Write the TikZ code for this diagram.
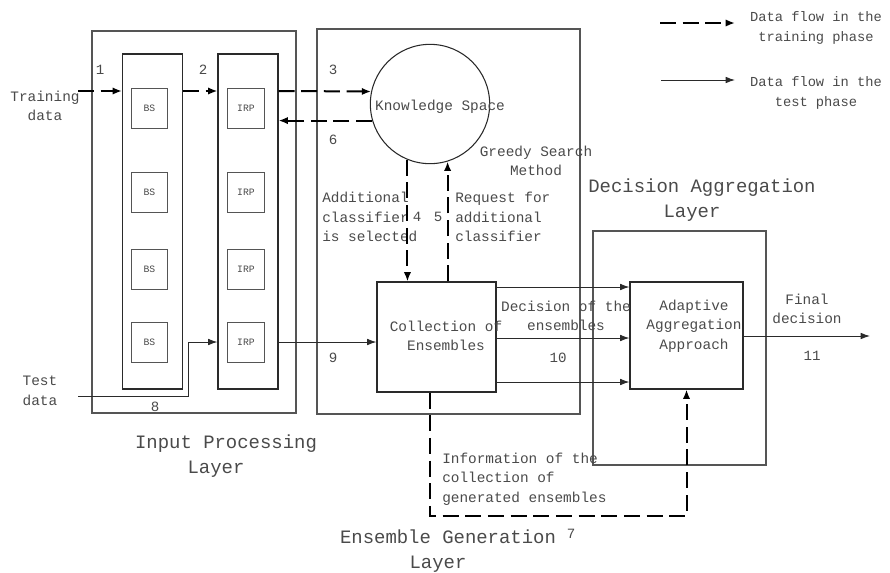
\documentclass[tikz,border=0pt]{standalone}
\usepackage{fontspec}
\setmainfont{Liberation Mono}
\usetikzlibrary{arrows.meta, calc}

\definecolor{inkgray}{HTML}{4A4A4A}
\definecolor{boxgray}{HTML}{555555}
\definecolor{linegray}{HTML}{2A2A2A}

\tikzset{
	layerbox/.style={draw=boxgray, line width=0.8pt, inner sep=0pt},
	colbox/.style={draw=linegray, line width=0.8pt, inner sep=0pt,
		minimum width=45pt, minimum height=251.25pt},
	unitbox/.style={draw=boxgray, line width=0.6pt, inner sep=0pt,
		minimum width=27.5pt, minimum height=30pt,
		text=inkgray, font=\fontsize{7.3}{9}\selectfont},
	procbox/.style={draw=linegray, line width=0.8pt, inner sep=0pt},
	lbl/.style={text=inkgray, font=\fontsize{10.8}{14.6}\selectfont, inner sep=0pt},
	num/.style={text=inkgray, font=\fontsize{10.6}{12}\selectfont, inner sep=0pt},
	title/.style={text=inkgray, font=\fontsize{14.2}{18.5}\selectfont,
		inner sep=0pt, align=center},
	trainflow/.style={draw=black, line width=1.5pt, dash pattern=on 12pt off 5pt,
		-{Latex[length=7pt,width=5.5pt]}},
	testflow/.style={draw=linegray, line width=0.75pt,
		-{Latex[length=7pt,width=5pt]}}
}

\begin{document}
\begin{tikzpicture}[x=0.75pt, y=-0.75pt, line join=miter]
	\useasboundingbox (0,0) rectangle (890,572);
	
	%========================
	% Input processing layer
	%========================
	\node[layerbox, minimum width=153pt, minimum height=286.5pt] (ipl) at (194,222) {};
	\node[colbox] (bscol) at (152.5,221.5) {};
	\node[colbox] (irpcol) at (248,221.5) {};
	\foreach \yy [count=\i] in {108,192.5,269,342} {
		\node[unitbox] (bs\i) at (149.5,\yy) {BS};
		\node[unitbox] (irp\i) at (246,\yy) {IRP};
	}
	\node[title] (ipltitle) at (226,456) {Input Processing\\Layer\hspace*{15pt}};
	
	% inputs
	\node[lbl, align=center] (train) at (45,106) {Training\\data};
	\node[lbl, align=center] (test) at (40,391) {Test\\data};
	\coordinate (in1) at (78,91);
	\coordinate (in8) at (78,396);
	\coordinate (bend8) at (188,342);
	
	%========================
	% Ensemble generation layer
	%========================
	\node[layerbox, minimum width=197.25pt, minimum height=288.75pt] (egl) at (448.5,221.5) {};
	\node[draw=linegray, line width=0.8pt, circle, minimum size=89.5pt, inner sep=0pt] (ks) at (430,104) {};
	\node[lbl] (kstext) at (440,107) {Knowledge Space};
	\node[lbl, align=center] (greedy) at (536,161) {Greedy Search\\Method};
	\node[procbox, minimum width=89.25pt, minimum height=82.5pt] (ceb) at (436.5,337) {};
	\node[lbl, align=center] (cebtext) at (446,336) {Collection of\\Ensembles};
	\node[lbl, align=left, anchor=west] (selected) at (322,217) {Additional\\classifier\\is selected};
	\node[lbl, align=left, anchor=west] (request) at (455,217) {Request for\\additional\\classifier};
	\node[title] (egltitle) at (448,551) {Ensemble Generation\\Layer\hspace*{15pt}};
	
	%========================
	% Decision aggregation layer
	%========================
	\node[layerbox, minimum width=129.75pt, minimum height=175.5pt] (dal) at (679.5,348) {};
	\node[procbox, minimum width=84.75pt, minimum height=80.25pt] (aaa) at (686.5,335.5) {};
	\node[lbl, align=center] (aaatext) at (694,326) {Adaptive\\Aggregation\\Approach};
	\node[title] (daltitle) at (702,200) {Decision Aggregation\\Layer\hspace*{15pt}};
	\node[lbl, align=center] (decision) at (566,316) {Decision of the\\ensembles};
	\node[lbl, align=center] (final) at (807,309) {Final\\decision};
	\coordinate (out11) at (870,336);
	\node[lbl, align=left, anchor=west] (info) at (442,479) {Information of the\\collection of\\generated ensembles};
	\coordinate (c7) at (430,516);
	
	%========================
	% training phase flow (dashed)
	%========================
	\draw[trainflow] (in1) -- (bscol.west |- in1);
	\draw[trainflow] (bscol.east |- in1) -- (irpcol.west |- in1);
	\draw[trainflow] (irpcol.east |- in1) -- (ks.168);
	\draw[trainflow] (ks.196) -- (irpcol.east |- ks.196);
	\draw[trainflow] (ks.248) -- (ks.248 |- ceb.north);
	\draw[trainflow] (ks.287 |- ceb.north) -- (ks.287);
	\draw[trainflow] (c7 |- ceb.south) -- (c7) -| (aaa.south);
	
	%========================
	% test phase flow (solid)
	%========================
	\draw[testflow] (in8) -| (bend8) -- (irpcol.west |- bend8);
	\draw[testflow] (irpcol.east |- bend8) -- (ceb.west |- bend8);
	\foreach \yy in {287,338,382}
		\draw[testflow] (ceb.east |- 0,\yy) -- (aaa.west |- 0,\yy);
	\draw[testflow] (aaa.east |- out11) -- (out11);
	
	% step numbers
	\node[num] (n1) at (100,70) {1};
	\node[num] (n2) at (203,70) {2};
	\node[num] (n3) at (333,70) {3};
	\node[num] (n6) at (333,140) {6};
	\node[num] (n4) at (417,217) {4};
	\node[num] (n5) at (438,217) {5};
	\node[num] (n7) at (571,534) {7};
	\node[num] (n8) at (155,407) {8};
	\node[num] (n9) at (333,358) {9};
	\node[num] (n10) at (558,358) {10};
	\node[num] (n11) at (812,356) {11};
	
	%========================
	% legend
	%========================
	\coordinate (lt1) at (660,23);
	\coordinate (lt2) at (735,23);
	\coordinate (ls1) at (661,80);
	\coordinate (ls2) at (735,80);
	\draw[trainflow] (lt1) -- (lt2);
	\draw[testflow] (ls1) -- (ls2);
	\node[lbl, align=center, font=\fontsize{10.3}{15}\selectfont] (legtrain) at (816,28) {Data flow in the\\training phase};
	\node[lbl, align=center, font=\fontsize{10.3}{15}\selectfont] (legtest) at (816,93) {Data flow in the\\test phase};
	
\end{tikzpicture}
\end{document}
